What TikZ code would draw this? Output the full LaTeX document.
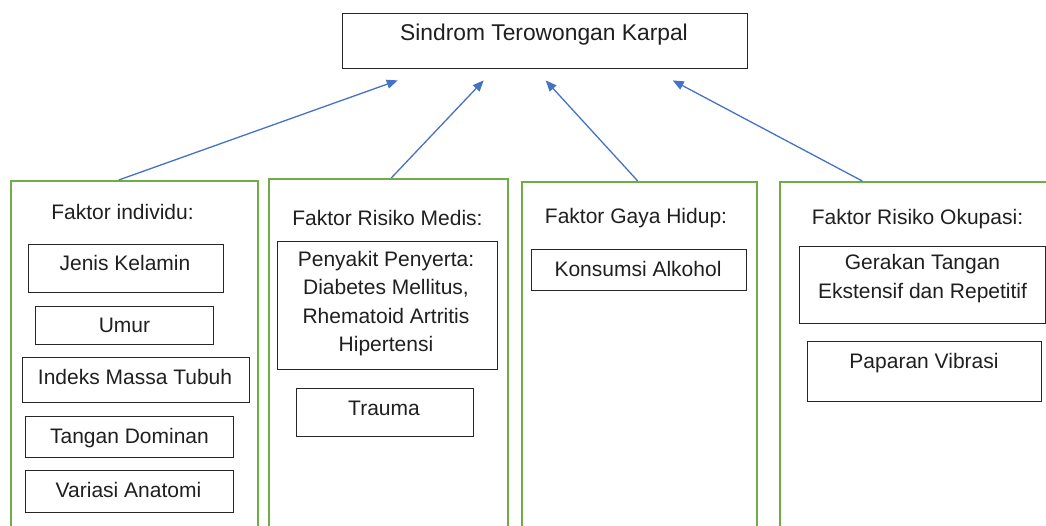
\documentclass[tikz,border=0pt]{standalone}
\usepackage{fontspec}
\setmainfont{Liberation Sans}
\usetikzlibrary{arrows.meta}
\definecolor{arrowblue}{HTML}{4472C4}
\definecolor{framegreen}{HTML}{70AD47}
\definecolor{txtgray}{HTML}{1F1F1F}
\begin{document}
\begin{tikzpicture}[x=1pt,y=-1pt,
 box/.style={draw=black!85, line width=1.4pt, inner sep=0pt, anchor=north west},
 group/.style={draw=framegreen, line width=1.5pt, inner sep=0pt, anchor=north west},
 txt/.style={font=\fontsize{21}{28.3}\selectfont, text=txtgray, inner sep=0pt, anchor=base, align=center},
 link/.style={draw=arrowblue, line width=1.3pt, -{Triangle[length=11pt,width=9pt]}}]
\useasboundingbox (0,0) rectangle (1046,525);
\clip (0,0) rectangle (1046,525);
% title
\node[box, minimum width=405pt, minimum height=55pt] (top) at (342,13) {};
\node[txt, font=\fontsize{22.8}{28}\selectfont] (topt) at (544,40.5) {Sindrom Terowongan Karpal};
% groups
\node[group, minimum width=247pt, minimum height=400pt] (g1) at (10,180) {};
\node[group, minimum width=239pt, minimum height=400pt] (g2) at (268,178) {};
\node[group, minimum width=235pt, minimum height=400pt] (g3) at (521,181) {};
\node[group, minimum width=300pt, minimum height=400pt] (g4) at (779,181) {};
% headings
\node[txt] (h1) at (122.5,219) {Faktor individu:};
\node[txt] (h2) at (387.5,225) {Faktor Risiko Medis:};
\node[txt] (h3) at (636,223) {Faktor Gaya Hidup:};
\node[txt] (h4) at (917.5,224) {Faktor Risiko Okupasi:};
% column 1
\node[box, minimum width=195pt, minimum height=48pt] (jk) at (28,244) {};
\node[txt] (jkt) at (125,270) {Jenis Kelamin};
\node[box, minimum width=178pt, minimum height=38pt] (um) at (35,306) {};
\node[txt] (umt) at (124.5,332.5) {Umur};
\node[box, minimum width=227pt, minimum height=45pt] (im) at (22,357) {};
\node[txt] (imt) at (135,384) {Indeks Massa Tubuh};
\node[box, minimum width=208pt, minimum height=41pt] (td) at (25,416) {};
\node[txt] (tdt) at (129.5,443) {Tangan Dominan};
\node[box, minimum width=208pt, minimum height=42pt] (va) at (25,470) {};
\node[txt] (vat) at (128.5,497) {Variasi Anatomi};
% column 2 (base anchor = baseline of the last line)
\node[box, minimum width=220pt, minimum height=128pt] (pp) at (277,241) {};
\node[txt] (ppt) at (386,351.5) {Penyakit Penyerta:\\Diabetes Mellitus,\\Rhematoid Artritis\\Hipertensi};
\node[box, minimum width=177pt, minimum height=48pt] (tr) at (296,388) {};
\node[txt] (trt) at (384,415) {Trauma};
% column 3
\node[box, minimum width=215pt, minimum height=41pt] (ka) at (531,249) {};
\node[txt] (kat) at (638,276) {Konsumsi Alkohol};
% column 4
\node[box, minimum width=246pt, minimum height=77pt] (gt) at (799,246) {};
\node[txt] (gtt) at (922.5,298) {Gerakan Tangan\\Ekstensif dan Repetitif};
\node[box, minimum width=234pt, minimum height=60pt] (pv) at (807,341) {};
\node[txt] (pvt) at (924,368) {Paparan Vibrasi};
% arrows
\draw[link] ([xshift=-15.5pt]g1.north) -- ([xshift=-147.5pt,yshift=-11pt]top.south);
\draw[link] ([xshift=3pt]g2.north) -- ([xshift=-61.5pt,yshift=-11pt]top.south);
\draw[link] ([xshift=-1.5pt]g3.north) -- ([xshift=0.5pt,yshift=-11pt]top.south);
\draw[link] ([xshift=-67.5pt]g4.north) -- ([xshift=127.5pt,yshift=-11pt]top.south);
\end{tikzpicture}
\end{document}
